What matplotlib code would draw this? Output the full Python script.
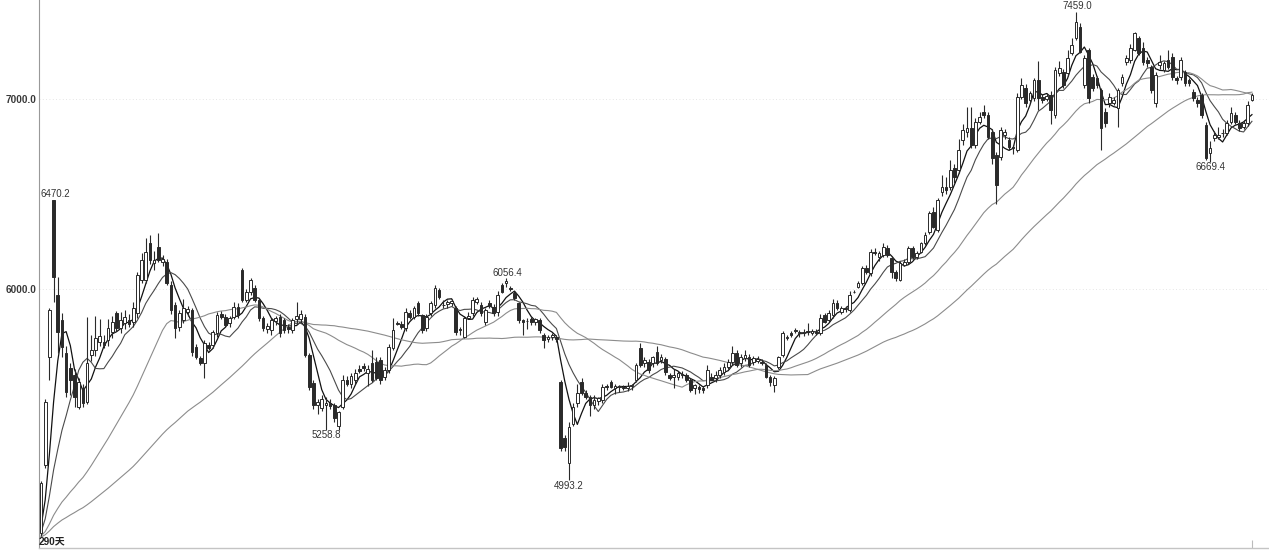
import numpy as np
import pandas as pd
import matplotlib
matplotlib.use("Agg")
import matplotlib.pyplot as plt

# daily bars (290 days)
opens = [
    4716, 5074, 5642, 6468, 5968, 5837, 5663, 5584, 5547, 5379,
    5479, 5405, 5653, 5679, 5721, 5721, 5732, 5774, 5874, 5795,
    5821, 5837, 5826, 5874, 6047, 6047, 6242, 6137, 6221, 6142,
    6142, 6021, 5916, 5800, 5837, 5880, 5889, 5695, 5637, 5611,
    5705, 5705, 5768, 5870, 5853, 5820, 5853, 5905, 6100, 5942,
    5984, 6005, 5942, 5847, 5790, 5784, 5830, 5853, 5837, 5800,
    5784, 5840, 5840, 5853, 5653, 5505, 5390, 5374, 5390, 5400,
    5389, 5279, 5380, 5521, 5500, 5521, 5580, 5595, 5560, 5609,
    5618, 5626, 5539, 5574, 5688, 5822, 5818, 5793, 5872, 5855,
    5925, 5863, 5793, 5872, 5916, 5995, 5918, 5920, 5925, 5898,
    5788, 5749, 5850, 5872, 5930, 5916, 5828, 5925, 5907, 5881,
    6021, 6030, 6005, 5977, 5925, 5835, 5830, 5840, 5825, 5837,
    5758, 5735, 5745, 5748, 5512, 5214, 5082, 5290, 5398, 5512,
    5451, 5433, 5390, 5410, 5416, 5490, 5512, 5478, 5482, 5486,
    5478, 5488, 5521, 5688, 5609, 5617, 5609, 5670, 5626, 5630,
    5547, 5538, 5538, 5545, 5547, 5521, 5477, 5483, 5481, 5494,
    5538, 5530, 5547, 5565, 5591, 5617, 5661, 5609, 5635, 5644,
    5617, 5622, 5618, 5600, 5539, 5494, 5591, 5653, 5740, 5767,
    5785, 5768, 5770, 5778, 5770, 5775, 5767, 5863, 5837, 5863,
    5925, 5881, 5900, 5890, 5986, 6012, 6030, 6109, 6083, 6197,
    6170, 6179, 6214, 6162, 6091, 6047, 6126, 6144, 6214, 6170,
    6197, 6241, 6302, 6407, 6311, 6512, 6539, 6539, 6635, 6626,
    6784, 6828, 6846, 6758, 6881, 6934, 6916, 6828, 6705, 6697,
    6810, 6784, 6749, 6732, 7012, 7056, 6995, 7004, 7100, 7012,
    6998, 7021, 6916, 7135, 7144, 7135, 7240, 7320, 7381, 7074,
    7258, 7117, 7109, 7047, 6934, 6977, 6977, 6951, 7082, 7196,
    7205, 7258, 7320, 7267, 7205, 7170, 6977, 7179, 7153, 7205,
    7223, 7109, 7117, 7144, 7100, 7039, 6995, 7021, 6863, 6714,
    6793, 6800, 6822, 6819, 6881, 6916, 6872, 6855, 6872, 6995,
]
highs = [
    4990, 5420, 5900, 6470.2, 6063, 5874, 5700, 5610, 5580, 5530,
    5500, 5853, 5760, 5860, 5840, 5760, 5840, 5860, 5885, 5880,
    5890, 5870, 5930, 6090, 6190, 6270, 6284, 6200, 6295, 6180,
    6160, 6040, 5930, 5890, 5950, 5910, 5900, 5710, 5650, 5730,
    5720, 5785, 5880, 5885, 5870, 5860, 5930, 5925, 6110, 6000,
    6060, 6020, 5955, 5860, 5820, 5850, 5860, 5870, 5850, 5815,
    5850, 5930, 5890, 5870, 5665, 5520, 5420, 5440, 5430, 5420,
    5400, 5360, 5550, 5540, 5560, 5580, 5600, 5610, 5600, 5680,
    5640, 5640, 5590, 5710, 5850, 5830, 5830, 5900, 5890, 5910,
    5935, 5870, 5870, 5935, 6020, 6005, 5940, 5940, 5950, 5910,
    5800, 5860, 5880, 5960, 5960, 5930, 5900, 5940, 5920, 5990,
    6030, 6056.4, 6015, 5990, 5930, 5840, 5850, 5855, 5850, 5845,
    5770, 5760, 5770, 5760, 5520, 5230, 5300, 5400, 5500, 5530,
    5470, 5440, 5440, 5430, 5500, 5500, 5520, 5500, 5495, 5495,
    5510, 5500, 5610, 5714, 5640, 5630, 5650, 5700, 5660, 5640,
    5560, 5580, 5570, 5570, 5560, 5530, 5500, 5495, 5490, 5600,
    5560, 5570, 5590, 5610, 5630, 5700, 5680, 5660, 5680, 5660,
    5650, 5645, 5630, 5610, 5550, 5540, 5650, 5780, 5760, 5780,
    5795, 5785, 5790, 5820, 5790, 5790, 5870, 5875, 5890, 5950,
    5940, 5910, 5910, 5990, 5995, 6040, 6120, 6125, 6210, 6215,
    6200, 6240, 6230, 6175, 6100, 6150, 6160, 6225, 6225, 6200,
    6250, 6300, 6410, 6430, 6480, 6600, 6590, 6680, 6660, 6790,
    6870, 6960, 6960, 6900, 6930, 6970, 6930, 6840, 6720, 6850,
    6840, 6800, 6760, 7030, 7110, 7080, 7040, 7110, 7200, 7025,
    7030, 7040, 7170, 7200, 7160, 7260, 7320, 7459.0, 7400, 7230,
    7270, 7130, 7120, 7060, 6950, 7030, 7010, 7060, 7130, 7230,
    7290, 7355, 7330, 7300, 7220, 7180, 7140, 7230, 7200, 7260,
    7240, 7120, 7220, 7150, 7110, 7050, 7010, 7030, 6880, 6780,
    6830, 6850, 6840, 6890, 6960, 6930, 6890, 6890, 6990, 7030,
]
lows = [
    4700, 5060, 5521, 5930, 5663, 5640, 5432, 5440, 5379, 5370,
    5380, 5395, 5620, 5650, 5700, 5690, 5700, 5740, 5780, 5770,
    5790, 5800, 5800, 5850, 6030, 6030, 6130, 6100, 6140, 6120,
    6020, 5870, 5740, 5780, 5820, 5860, 5650, 5630, 5600, 5530,
    5680, 5690, 5750, 5840, 5800, 5800, 5840, 5850, 5930, 5930,
    5970, 5930, 5830, 5780, 5770, 5760, 5810, 5750, 5770, 5770,
    5770, 5820, 5820, 5640, 5470, 5370, 5340, 5360, 5258.8, 5370,
    5300, 5260, 5370, 5490, 5480, 5500, 5560, 5570, 5490, 5510,
    5520, 5500, 5520, 5560, 5680, 5810, 5790, 5780, 5840, 5840,
    5860, 5770, 5780, 5860, 5900, 5950, 5900, 5900, 5910, 5760,
    5760, 5740, 5840, 5860, 5920, 5860, 5810, 5900, 5860, 5860,
    5980, 6010, 5990, 5940, 5820, 5760, 5790, 5810, 5810, 5770,
    5690, 5720, 5730, 5720, 5150, 5150, 4993.2, 5280, 5380, 5440,
    5420, 5330, 5370, 5390, 5400, 5470, 5480, 5450, 5460, 5470,
    5465, 5470, 5510, 5590, 5590, 5560, 5590, 5600, 5610, 5550,
    5520, 5480, 5520, 5530, 5510, 5460, 5450, 5455, 5455, 5480,
    5520, 5510, 5530, 5550, 5580, 5600, 5590, 5590, 5620, 5590,
    5600, 5610, 5600, 5530, 5490, 5460, 5580, 5640, 5730, 5750,
    5770, 5750, 5755, 5760, 5760, 5760, 5760, 5820, 5825, 5850,
    5890, 5870, 5880, 5880, 5978, 6005, 6020, 6080, 6070, 6180,
    6150, 6170, 6170, 6060, 6040, 6040, 6120, 6130, 6160, 6160,
    6190, 6230, 6290, 6320, 6300, 6490, 6500, 6520, 6560, 6610,
    6760, 6800, 6740, 6740, 6870, 6900, 6790, 6660, 6450, 6680,
    6790, 6730, 6710, 6720, 7000, 6960, 6980, 6990, 6940, 6980,
    6990, 6870, 6900, 7120, 7060, 7120, 7230, 7310, 7240, 7060,
    6980, 7040, 7060, 6730, 6850, 6960, 6970, 6855, 7070, 7180,
    7190, 7250, 7230, 7180, 7170, 7030, 6960, 7160, 7140, 7160,
    7100, 7080, 7100, 7070, 7070, 6990, 6960, 6900, 6680, 6669.4,
    6780, 6790, 6800, 6810, 6870, 6870, 6830, 6840, 6860, 6990,
]
closes = [
    4979, 5405, 5889, 6063, 5774, 5695, 5458, 5521, 5432, 5510,
    5400, 5611, 5679, 5742, 5753, 5705, 5795, 5826, 5795, 5837,
    5853, 5816, 5900, 6074, 6153, 6195, 6153, 6153, 6153, 6160,
    6032, 5889, 5795, 5874, 5900, 5895, 5668, 5642, 5611, 5716,
    5690, 5774, 5863, 5855, 5810, 5850, 5905, 5863, 5942, 5984,
    6047, 5942, 5847, 5795, 5805, 5837, 5850, 5768, 5784, 5790,
    5837, 5860, 5870, 5653, 5484, 5389, 5405, 5420, 5400, 5385,
    5321, 5354, 5521, 5500, 5540, 5557, 5570, 5585, 5580, 5521,
    5530, 5521, 5574, 5696, 5784, 5818, 5800, 5881, 5855, 5898,
    5872, 5784, 5855, 5925, 6003, 5960, 5915, 5930, 5935, 5775,
    5784, 5846, 5860, 5942, 5950, 5872, 5890, 5910, 5872, 5968,
    5986, 6040, 6000, 5951, 5837, 5828, 5832, 5825, 5840, 5784,
    5732, 5750, 5758, 5735, 5161, 5170, 5275, 5380, 5451, 5451,
    5433, 5390, 5416, 5425, 5486, 5486, 5486, 5490, 5490, 5480,
    5492, 5496, 5600, 5600, 5626, 5574, 5644, 5609, 5644, 5565,
    5530, 5547, 5556, 5552, 5521, 5468, 5494, 5472, 5468, 5574,
    5521, 5547, 5574, 5591, 5617, 5661, 5600, 5644, 5653, 5600,
    5635, 5632, 5610, 5539, 5512, 5530, 5644, 5767, 5749, 5758,
    5777, 5773, 5775, 5775, 5778, 5770, 5846, 5828, 5872, 5925,
    5898, 5898, 5895, 5968, 5986, 6030, 6109, 6091, 6197, 6188,
    6188, 6223, 6179, 6091, 6056, 6135, 6144, 6214, 6170, 6188,
    6241, 6284, 6398, 6328, 6469, 6539, 6521, 6626, 6591, 6732,
    6837, 6846, 6758, 6881, 6907, 6916, 6802, 6688, 6547, 6837,
    6828, 6749, 6740, 7012, 7074, 6977, 7030, 7100, 7004, 6995,
    7016, 6942, 7153, 7161, 7074, 7214, 7284, 7407, 7249, 7214,
    7004, 7056, 7074, 6846, 6872, 7012, 6995, 7047, 7117, 7214,
    7267, 7346, 7240, 7196, 7188, 7047, 7126, 7196, 7188, 7170,
    7117, 7100, 7205, 7082, 7086, 7004, 6977, 6916, 6688, 6740,
    6810, 6812, 6819, 6872, 6925, 6881, 6846, 6872, 6969, 7021,
]

# close level before the first visible day (only seeds the averages)
prior_close = 4690
ma_periods = [5, 10, 30, 60]
ma_colors = ['#111111', '#4a4a4a', '#8c8c8c', '#8c8c8c']

# bars whose extreme gets a price label
marked_highs = [3, 111, 247]
marked_lows = [68, 126, 279]

yticks = [6000, 7000]
days_label = '290天'

o = np.array(opens, float)
h = np.array(highs, float)
l = np.array(lows, float)
c = np.array(closes, float)
n = len(c)
x = np.arange(n)

fig = plt.figure(figsize=(12.69, 5.5), dpi=100)
ax = fig.add_axes([39 / 1269, 2 / 550, 1 - 39 / 1269, 548 / 550])

# moving averages
pad = max(ma_periods) - 1
ext = pd.Series(np.concatenate([np.full(pad, prior_close), c]))
for p, col in zip(ma_periods, ma_colors):
    ma = ext.rolling(p).mean().to_numpy()[pad:]
    ax.plot(x, ma, color=col, lw=0.9 if p == 5 else 0.8, zorder=2)

# candles
up = c >= o
ax.vlines(x, l, h, color='#2a2a2a', lw=0.8, zorder=3)
ax.bar(x, np.abs(c - o), bottom=np.minimum(o, c), width=0.64,
       color=np.where(up, 'white', '#2a2a2a'), edgecolor='#2a2a2a',
       linewidth=0.7, zorder=4)

lab_font = dict(family='Liberation Sans', fontsize=7, color='#333333')
for i in marked_highs:
    ax.annotate(f'{h[i]:.1f}', (x[i], h[i]), xytext=(1, 4), textcoords='offset points',
                ha='center', va='center', **lab_font)
for i in marked_lows:
    ax.annotate(f'{l[i]:.1f}', (x[i], l[i]), xytext=(0, -4), textcoords='offset points',
                ha='center', va='center', **lab_font)

ax.set_xlim(-0.48, 293.07)
ax.set_ylim(4637, 7521)

ax.set_yticks(yticks)
ax.set_yticklabels([f'{v:.1f}' for v in yticks], family='Liberation Sans',
                   fontsize=7.2, fontweight='bold', color='#3a3a3a')
ax.tick_params(axis='y', length=0, pad=1.5)
ax.yaxis.grid(True, linestyle=(0, (1, 3)), color='#dddddd', lw=0.6)
ax.set_axisbelow(True)

ax.set_xticks([n - 1])
ax.tick_params(axis='x', direction='in', length=6, color='#bbbbbb', labelbottom=False)

for s in ['top', 'right']:
    ax.spines[s].set_visible(False)
ax.spines['left'].set_color('#999999')
ax.spines['left'].set_linewidth(0.8)
ax.spines['bottom'].set_color('#c4c4c4')
ax.spines['bottom'].set_linewidth(1.0)

fig.text(39 / 1269, 9 / 550, days_label, family=['Liberation Sans', 'Noto Sans CJK SC'],
         fontsize=7.2, fontweight='bold', color='#222222', ha='left', va='center')

fig.savefig('out.png', dpi=100)
